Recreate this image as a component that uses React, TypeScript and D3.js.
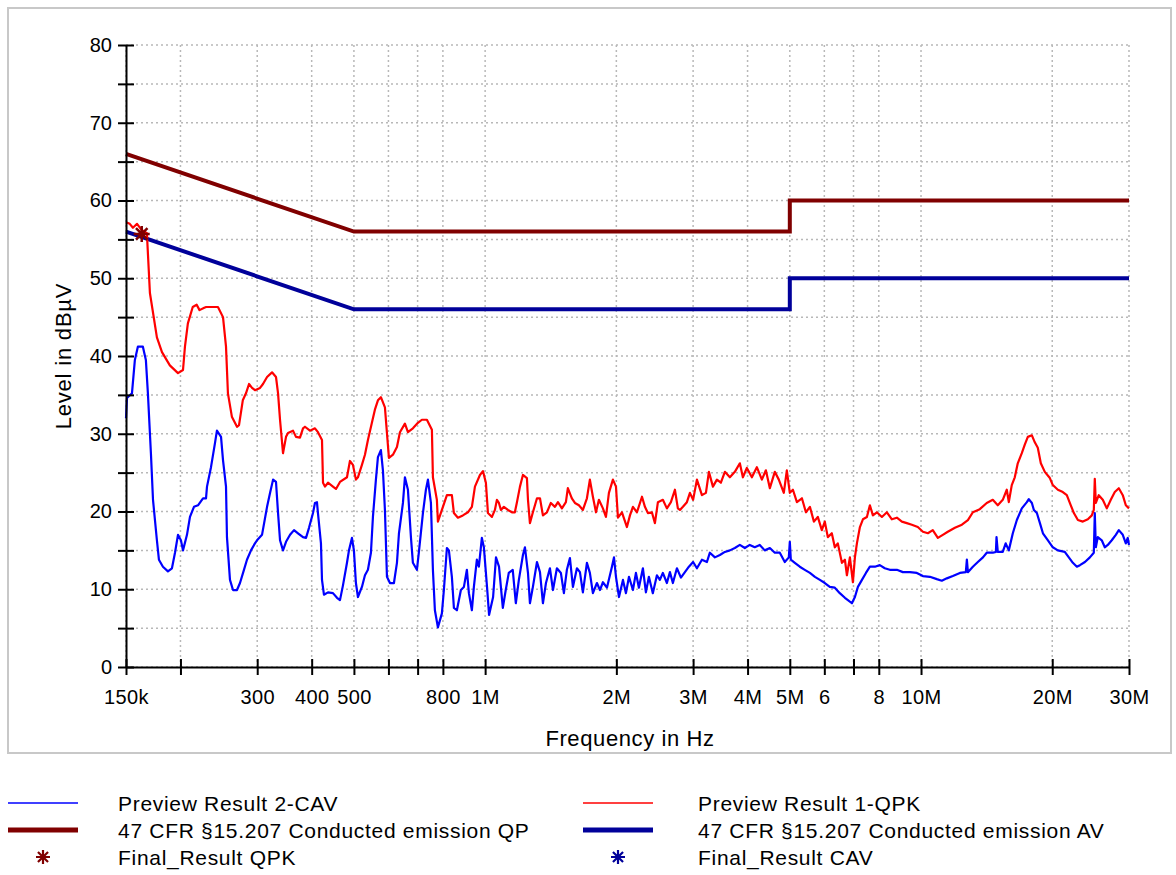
import React, { useEffect, useRef } from 'react';
import * as d3 from 'd3';

// frequency in MHz, level in dBµV
const previewQPK: [number, number][] = [
  [0.15, 57.2], [0.153, 57.0], [0.1556, 56.5], [0.159, 57.0], [0.163, 56.2], [0.1675, 55.8], [0.1702, 48.1],
  [0.1766, 42.4], [0.1814, 40.5], [0.1891, 38.8], [0.1974, 37.8], [0.2027, 38.2], [0.2048, 41.2], [0.208, 44.2],
  [0.2134, 46.3], [0.2179, 46.6], [0.2212, 45.9], [0.2268, 46.2], [0.2291, 46.3], [0.2438, 46.3], [0.2504, 45.0],
  [0.2544, 41.2], [0.257, 35.2], [0.2624, 32.2], [0.2696, 30.9], [0.2725, 31.1], [0.278, 34.3], [0.2827, 35.2],
  [0.2873, 36.4], [0.2919, 35.9], [0.2965, 35.6], [0.3045, 35.9], [0.3093, 36.4], [0.316, 37.3], [0.3244, 37.9],
  [0.3313, 37.3], [0.3349, 35.2], [0.3384, 31.8], [0.3438, 27.5], [0.3493, 29.6], [0.353, 30.1], [0.3624, 30.4],
  [0.3682, 29.6], [0.376, 29.5], [0.3821, 30.7], [0.3861, 30.9], [0.3964, 30.4], [0.407, 30.7], [0.4135, 30.2],
  [0.4224, 29.2], [0.4247, 23.7], [0.4291, 23.2], [0.436, 23.7], [0.4476, 23.2], [0.4548, 22.9], [0.4645, 23.8],
  [0.482, 24.4], [0.4896, 26.5], [0.4974, 26.0], [0.5053, 24.1], [0.5107, 24.4], [0.5216, 26.0], [0.53, 27.3],
  [0.5384, 29.2], [0.5498, 31.4], [0.5586, 33.1], [0.5676, 34.3], [0.5766, 34.7], [0.589, 33.4], [0.5953, 30.1],
  [0.6016, 26.9], [0.6145, 27.3], [0.6276, 28.3], [0.6376, 30.2], [0.6546, 31.3], [0.6651, 30.2], [0.6828, 30.7],
  [0.7011, 31.4], [0.7161, 31.8], [0.7352, 31.8], [0.7549, 30.5], [0.7589, 24.4], [0.775, 21.5], [0.7792, 18.7],
  [0.7958, 20.2], [0.8171, 22.1], [0.8389, 22.1], [0.8479, 19.8], [0.866, 19.2], [0.8891, 19.5], [0.913, 19.9],
  [0.9324, 20.6], [0.9476, 23.2], [0.9729, 24.7], [0.9885, 25.2], [1.004, 23.7], [1.015, 19.8], [1.0366, 19.3],
  [1.053, 20.2], [1.0641, 21.5], [1.0756, 21.1], [1.087, 20.2], [1.104, 20.6], [1.128, 20.2], [1.152, 19.9],
  [1.17, 19.9], [1.183, 21.2], [1.202, 23.2], [1.221, 24.7], [1.247, 24.3], [1.254, 21.5], [1.267, 18.5],
  [1.287, 19.9], [1.315, 21.7], [1.336, 21.7], [1.357, 19.5], [1.386, 19.9], [1.415, 21.1], [1.446, 20.6],
  [1.469, 21.2], [1.5, 20.4], [1.532, 21.2], [1.548, 23.0], [1.581, 21.7], [1.607, 21.1], [1.641, 20.8],
  [1.676, 20.2], [1.712, 21.7], [1.739, 24.1], [1.767, 21.9], [1.796, 19.9], [1.824, 21.5], [1.863, 20.4],
  [1.893, 19.3], [1.923, 22.4], [1.964, 24.1], [1.996, 23.2], [2.017, 19.2], [2.06, 19.9], [2.115, 18.0],
  [2.149, 19.5], [2.183, 20.6], [2.23, 19.9], [2.29, 21.9], [2.326, 20.6], [2.363, 19.8], [2.413, 19.9],
  [2.452, 18.5], [2.491, 21.2], [2.557, 21.5], [2.612, 20.4], [2.668, 21.2], [2.725, 22.8], [2.768, 20.4],
  [2.798, 20.2], [2.843, 20.6], [2.903, 21.2], [2.95, 22.4], [3.0, 21.5], [3.061, 24.1], [3.143, 22.1],
  [3.21, 22.4], [3.261, 25.1], [3.331, 23.2], [3.402, 24.1], [3.474, 23.7], [3.548, 25.1], [3.643, 24.4],
  [3.74, 25.1], [3.84, 26.2], [3.902, 24.4], [3.985, 25.6], [4.092, 24.4], [4.201, 25.7], [4.314, 24.1],
  [4.406, 25.3], [4.5, 23.0], [4.619, 25.1], [4.718, 24.1], [4.844, 22.4], [4.922, 25.3], [5.0, 22.4],
  [5.083, 22.8], [5.191, 21.2], [5.33, 21.7], [5.444, 19.9], [5.56, 20.6], [5.679, 18.7], [5.797, 19.3],
  [5.921, 17.6], [6.016, 18.7], [6.112, 16.7], [6.242, 17.2], [6.342, 15.4], [6.443, 15.9], [6.584, 13.4],
  [6.689, 13.8], [6.76, 11.8], [6.868, 14.1], [6.978, 10.9], [7.052, 14.1], [7.127, 15.9], [7.241, 18.0],
  [7.357, 19.0], [7.513, 19.3], [7.633, 20.8], [7.755, 19.5], [7.92, 19.9], [8.132, 19.3], [8.35, 19.9],
  [8.573, 19.0], [8.802, 19.2], [9.038, 18.7], [9.277, 18.5], [9.526, 18.3], [9.832, 18.0], [10.1, 17.4],
  [10.37, 17.2], [10.64, 17.6], [10.93, 16.6], [11.22, 17.0], [11.52, 17.4], [11.96, 17.9], [12.41, 18.3],
  [12.81, 18.9], [13.15, 19.9], [13.64, 20.3], [14.15, 21.1], [14.61, 21.5], [15.0, 20.8], [15.4, 21.5],
  [15.73, 22.8], [15.9, 21.2], [16.15, 23.4], [16.41, 24.4], [16.67, 26.2], [17.03, 27.5], [17.3, 28.6],
  [17.58, 29.6], [17.96, 29.8], [18.24, 28.9], [18.53, 28.2], [18.83, 26.2], [19.23, 25.1], [19.75, 24.3],
  [20.06, 23.4], [20.6, 22.8], [21.15, 22.5], [21.6, 22.1], [22.06, 20.8], [22.42, 19.8], [22.9, 18.9],
  [23.51, 18.7], [24.14, 19.0], [24.65, 19.5], [24.91, 20.2], [25.04, 24.2], [25.18, 21.1], [25.57, 22.1],
  [26.12, 21.5], [26.68, 20.4], [27.25, 21.5], [27.83, 22.5], [28.43, 23.0], [29.03, 22.1], [29.5, 20.8],
  [30.0, 20.4],
];

const previewCAV: [number, number][] = [
  [0.15, 32.0], [0.1508, 34.6], [0.1548, 35.2], [0.1572, 39.5], [0.1597, 41.2], [0.164, 41.2], [0.1666, 39.5],
  [0.1684, 35.2], [0.1711, 27.5], [0.173, 21.5], [0.1766, 16.3], [0.1785, 13.8], [0.1823, 12.9], [0.1872, 12.3],
  [0.1912, 12.7], [0.1943, 14.7], [0.1974, 17.0], [0.2005, 16.3], [0.2027, 15.0], [0.207, 17.0], [0.2103, 19.3],
  [0.2148, 20.6], [0.2194, 20.8], [0.2253, 21.7], [0.2289, 21.7], [0.2301, 23.2], [0.235, 25.7], [0.24, 28.8],
  [0.2425, 30.4], [0.2478, 29.6], [0.2504, 26.6], [0.2544, 23.2], [0.2557, 16.7], [0.2598, 11.2], [0.264, 9.9],
  [0.2696, 9.9], [0.2739, 10.8], [0.2797, 12.5], [0.2842, 13.8], [0.2903, 15.0], [0.295, 15.7], [0.2997, 16.3],
  [0.3077, 17.0], [0.316, 20.6], [0.3211, 22.4], [0.3262, 24.1], [0.3313, 23.8], [0.3349, 19.8], [0.3384, 16.3],
  [0.3438, 15.0], [0.3493, 16.1], [0.3568, 17.0], [0.3644, 17.6], [0.3721, 17.2], [0.3821, 16.7], [0.3882, 16.6],
  [0.3944, 17.9], [0.4028, 19.8], [0.407, 21.1], [0.4113, 21.2], [0.4135, 19.8], [0.4201, 15.9], [0.4224, 11.2],
  [0.4268, 9.3], [0.436, 9.6], [0.4476, 9.5], [0.4573, 8.9], [0.4645, 8.6], [0.4719, 10.5], [0.482, 13.4],
  [0.4871, 15.0], [0.4948, 16.6], [0.5, 15.0], [0.5053, 10.8], [0.5107, 9.0], [0.5216, 10.3], [0.53, 11.8],
  [0.5384, 12.5], [0.547, 14.7], [0.5528, 19.3], [0.5616, 24.1], [0.5676, 27.0], [0.5766, 27.9], [0.5828, 25.3],
  [0.589, 20.2], [0.5953, 11.6], [0.6048, 10.8], [0.6177, 10.8], [0.6276, 13.4], [0.6343, 17.2], [0.6478, 21.1],
  [0.6546, 24.4], [0.6651, 22.8], [0.6757, 16.7], [0.6828, 13.4], [0.6974, 12.5], [0.7048, 14.8], [0.7199, 19.8],
  [0.7314, 22.8], [0.7392, 24.1], [0.751, 21.1], [0.7589, 12.5], [0.7669, 7.3], [0.7792, 5.1], [0.7958, 6.9],
  [0.8042, 9.9], [0.8171, 15.3], [0.8258, 15.0], [0.8389, 11.6], [0.8479, 7.6], [0.8614, 7.3], [0.8798, 9.9],
  [0.8939, 10.3], [0.9081, 12.5], [0.9178, 9.5], [0.9324, 7.3], [0.9423, 10.3], [0.9573, 13.8], [0.9675, 12.9],
  [0.9829, 16.6], [0.9934, 15.4], [1.01, 10.3], [1.021, 6.7], [1.043, 9.0], [1.059, 14.1], [1.076, 12.9],
  [1.098, 7.6], [1.115, 9.9], [1.133, 12.1], [1.157, 12.5], [1.176, 8.2], [1.195, 11.2], [1.221, 14.4],
  [1.234, 15.4], [1.254, 12.1], [1.267, 8.2], [1.287, 10.3], [1.315, 13.5], [1.336, 12.2], [1.357, 8.2],
  [1.379, 10.8], [1.408, 12.7], [1.431, 9.9], [1.461, 12.7], [1.492, 12.1], [1.516, 9.5], [1.54, 12.5],
  [1.565, 14.0], [1.59, 10.3], [1.624, 12.7], [1.65, 12.2], [1.676, 9.6], [1.712, 13.4], [1.739, 12.1],
  [1.767, 9.5], [1.805, 10.8], [1.834, 9.9], [1.863, 10.9], [1.903, 10.2], [1.954, 12.9], [1.975, 14.1],
  [1.996, 11.6], [2.028, 9.0], [2.071, 11.2], [2.104, 9.5], [2.138, 11.6], [2.183, 9.9], [2.218, 12.1],
  [2.253, 10.2], [2.301, 12.7], [2.338, 9.6], [2.375, 11.6], [2.425, 9.5], [2.478, 11.8], [2.517, 11.2],
  [2.557, 12.1], [2.612, 10.8], [2.654, 12.2], [2.696, 10.8], [2.754, 12.7], [2.813, 11.5], [2.873, 12.2],
  [2.934, 12.9], [3.0, 13.5], [3.061, 12.7], [3.143, 13.8], [3.227, 13.5], [3.278, 14.7], [3.366, 14.1],
  [3.456, 14.4], [3.548, 14.8], [3.643, 15.0], [3.74, 15.3], [3.84, 15.7], [3.942, 15.3], [4.047, 15.7],
  [4.155, 15.4], [4.266, 15.7], [4.38, 15.0], [4.5, 15.3], [4.619, 14.7], [4.743, 14.7], [4.869, 13.5],
  [4.974, 14.1], [5.0, 16.1], [5.027, 13.8], [5.134, 13.4], [5.271, 12.9], [5.412, 12.5], [5.56, 12.1],
  [5.709, 11.6], [5.861, 11.2], [6.016, 10.8], [6.176, 10.3], [6.342, 10.2], [6.511, 9.5], [6.689, 8.9],
  [6.796, 8.6], [6.941, 8.2], [7.052, 9.0], [7.165, 10.3], [7.319, 11.2], [7.475, 12.1], [7.633, 12.9],
  [7.837, 12.9], [8.043, 13.1], [8.258, 12.7], [8.479, 12.5], [8.802, 12.5], [9.086, 12.2], [9.43, 12.2],
  [9.781, 12.1], [10.1, 11.7], [10.48, 11.6], [10.87, 11.3], [11.16, 11.1], [11.46, 11.4], [11.83, 11.7],
  [12.28, 12.1], [12.67, 12.2], [12.74, 13.8], [12.81, 12.2], [13.15, 12.9], [13.5, 13.5], [13.87, 14.1],
  [14.15, 14.7], [14.61, 14.7], [14.85, 14.8], [14.9, 16.7], [15.0, 14.8], [15.4, 14.8], [15.64, 15.9],
  [15.9, 15.0], [16.24, 17.2], [16.59, 18.9], [17.03, 20.4], [17.49, 21.2], [17.67, 21.6], [17.96, 21.1],
  [18.15, 20.2], [18.44, 19.8], [18.74, 18.5], [19.04, 17.2], [19.55, 16.3], [20.06, 15.4], [20.6, 15.0],
  [21.37, 14.8], [21.83, 14.1], [22.3, 13.4], [22.78, 12.9], [23.15, 13.1], [23.77, 13.5], [24.4, 14.1],
  [24.91, 14.7], [25.04, 19.8], [25.18, 15.4], [25.44, 16.7], [25.98, 16.3], [26.4, 15.4], [26.82, 15.7],
  [27.39, 16.3], [27.98, 17.0], [28.43, 17.6], [29.03, 17.0], [29.5, 15.9], [29.8, 16.6], [30.0, 15.7],
];

const limitQP: [number, number][] = [[0.15, 66], [0.5, 56], [5, 56], [5, 60], [30, 60]];
const limitAV: [number, number][] = [[0.15, 56], [0.5, 46], [5, 46], [5, 50], [30, 50]];
const finalQPK: [number, number][] = [[0.163, 55.7]];

const xTicks = [0.15, 0.2, 0.3, 0.4, 0.5, 0.6, 0.7, 0.8, 1, 2, 3, 4, 5, 6, 7, 8, 10, 20, 30];
const xTickLabels = ['150k', '', '300', '400', '500', '', '', '800', '1M', '2M', '3M', '4M', '5M', '6', '', '8', '10M', '20M', '30M'];
const yTicks = d3.range(0, 81, 5);

const legendLabels = [
  'Preview Result 2-CAV', 'Preview Result 1-QPK',
  '47 CFR §15.207 Conducted emission QP', '47 CFR §15.207 Conducted emission AV',
  'Final_Result QPK', 'Final_Result CAV',
];

const FONT = '"Liberation Sans", Arial, Helvetica, sans-serif';
const RED = '#ff0000';
const BLUE = '#0000ff';
const DARKRED = '#800000';
const NAVY = '#00009a';

const App: React.FC = () => {
  const svgRef = useRef<SVGSVGElement>(null);

  useEffect(() => {
    if (!svgRef.current) return;
    const svg = d3.select(svgRef.current);
    svg.selectAll('*').remove();

    const left = 126, right = 1129, top = 45, bottom = 667;
    const x = d3.scaleLog().domain([0.15, 30]).range([left, right]);
    const y = d3.scaleLinear().domain([0, 80]).range([bottom, top]);

    // outer frame
    svg.append('rect')
      .attr('x', 8).attr('y', 8).attr('width', 1163).attr('height', 745)
      .attr('fill', 'none').attr('stroke', '#c8c8c8').attr('stroke-width', 2);

    // dotted grid
    const grid = svg.append('g')
      .attr('stroke', '#b8b8b8').attr('stroke-width', 1.5).attr('stroke-dasharray', '2,3');
    xTicks.forEach(f => {
      grid.append('line').attr('x1', x(f)).attr('x2', x(f)).attr('y1', top).attr('y2', bottom);
    });
    yTicks.forEach(v => {
      grid.append('line').attr('x1', left).attr('x2', right).attr('y1', y(v)).attr('y2', y(v));
    });

    const line = d3.line<[number, number]>().x(d => x(d[0])).y(d => y(d[1]));

    // limit lines
    svg.append('path').datum(limitQP).attr('d', line)
      .attr('fill', 'none').attr('stroke', DARKRED).attr('stroke-width', 4);
    svg.append('path').datum(limitAV).attr('d', line)
      .attr('fill', 'none').attr('stroke', NAVY).attr('stroke-width', 4);

    // preview scans
    svg.append('path').datum(previewCAV).attr('d', line)
      .attr('fill', 'none').attr('stroke', BLUE).attr('stroke-width', 2.2).attr('stroke-linejoin', 'round');
    svg.append('path').datum(previewQPK).attr('d', line)
      .attr('fill', 'none').attr('stroke', RED).attr('stroke-width', 2.2).attr('stroke-linejoin', 'round');

    const star = (cx: number, cy: number, r: number) => {
      const p = d3.path();
      p.moveTo(cx - r, cy); p.lineTo(cx + r, cy);
      p.moveTo(cx, cy - r); p.lineTo(cx, cy + r);
      const k = r * 0.72;
      p.moveTo(cx - k, cy - k); p.lineTo(cx + k, cy + k);
      p.moveTo(cx - k, cy + k); p.lineTo(cx + k, cy - k);
      return p.toString();
    };

    finalQPK.forEach(d => {
      svg.append('path').attr('d', star(x(d[0]), y(d[1]), 8))
        .attr('stroke', DARKRED).attr('stroke-width', 2.5).attr('fill', 'none');
    });

    // axes
    const yAxis = svg.append('g')
      .attr('transform', `translate(${left},0)`)
      .call(d3.axisLeft(y).tickValues(yTicks).tickSize(8).tickSizeOuter(0).tickPadding(6)
        .tickFormat(d => (+d % 10 === 0 ? String(d) : '')));
    yAxis.select('.domain').attr('stroke', '#000').attr('stroke-width', 2);
    yAxis.selectAll('.tick line').attr('x1', 8).attr('stroke', '#000').attr('stroke-width', 2);
    yAxis.selectAll('.tick text')
      .style('font-family', FONT).style('font-size', '20px').attr('fill', '#000');

    const xAxis = svg.append('g')
      .attr('transform', `translate(0,${bottom})`)
      .call(d3.axisBottom(x).tickValues(xTicks).tickSize(8).tickSizeOuter(0).tickPadding(15)
        .tickFormat((_d, i) => xTickLabels[i]));
    xAxis.select('.domain').attr('stroke', '#000').attr('stroke-width', 2);
    xAxis.selectAll('.tick line').attr('y1', -8).attr('stroke', '#000').attr('stroke-width', 2);
    xAxis.selectAll('.tick text')
      .style('font-family', FONT).style('font-size', '20px').style('letter-spacing', '0.4px').attr('fill', '#000');

    // axis titles
    svg.append('text')
      .attr('transform', `translate(71,${(top + bottom) / 2}) rotate(-90)`)
      .attr('text-anchor', 'middle')
      .style('font-family', FONT).style('font-size', '22px').style('letter-spacing', '0.8px')
      .text('Level in dBµV');
    svg.append('text')
      .attr('x', 630).attr('y', 746)
      .attr('text-anchor', 'middle')
      .style('font-family', FONT).style('font-size', '22px').style('letter-spacing', '0.6px')
      .text('Frequency in Hz');

    // legend
    const colX = [8, 583];
    const rowY = [803, 830, 857];
    const legend = svg.append('g');
    const styles = [
      { color: BLUE, width: 1.5, star: false },
      { color: RED, width: 1.5, star: false },
      { color: DARKRED, width: 5, star: false },
      { color: NAVY, width: 5, star: false },
      { color: DARKRED, width: 2.2, star: true },
      { color: NAVY, width: 2.2, star: true },
    ];
    legendLabels.forEach((label, i) => {
      const cx = colX[i % 2];
      const cy = rowY[Math.floor(i / 2)];
      const st = styles[i];
      if (st.star) {
        legend.append('path').attr('d', star(cx + 35, cy, 7))
          .attr('stroke', st.color).attr('stroke-width', st.width).attr('fill', 'none');
      } else {
        legend.append('line').attr('x1', cx).attr('x2', cx + 70).attr('y1', cy).attr('y2', cy)
          .attr('stroke', st.color).attr('stroke-width', st.width);
      }
      legend.append('text')
        .attr('x', cx + (i % 2 === 0 ? 110 : 115)).attr('y', cy + 8)
        .style('font-family', FONT).style('font-size', '21px').style('letter-spacing', '0.7px')
        .text(label);
    });
  }, []);

  return (
    <svg ref={svgRef} width={1176} height={875}
      style={{ position: 'absolute', left: 0, top: 0, background: '#fff' }} />
  );
};

export default App;
